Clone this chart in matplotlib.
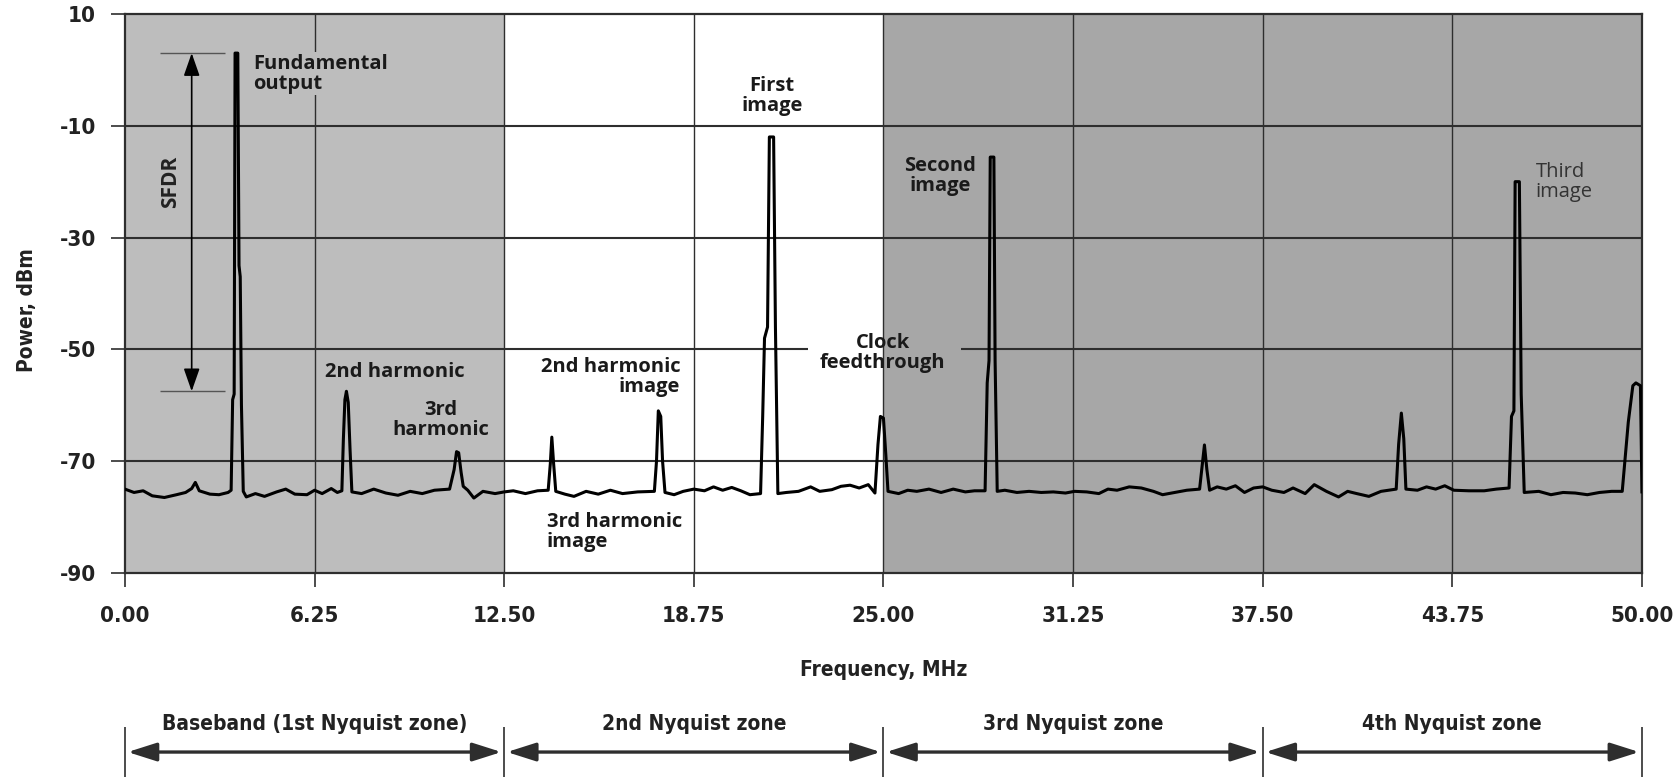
import matplotlib.pyplot as plt

# Spectrum analyser trace of a DAC output, frequency in MHz, power in dBm
trace_freq = [
    0.00, 0.30, 0.60, 0.90, 1.30, 1.70, 2.00, 2.20, 2.32, 2.45, 2.80, 3.10, 3.40, 3.50,
    3.55, 3.60, 3.63, 3.72, 3.76, 3.80, 3.84, 3.90,
    4.00, 4.30, 4.60, 5.00, 5.30, 5.60, 6.00, 6.25, 6.50, 6.80, 7.00, 7.15,
    7.20, 7.25, 7.30, 7.36, 7.42, 7.48,
    7.80, 8.20, 8.60, 9.00, 9.40, 9.80, 10.20, 10.70,
    10.85, 10.93, 11.00, 11.08, 11.15,
    11.30, 11.50, 11.80, 12.20, 12.50,
    12.80, 13.20, 13.60, 13.95,
    14.02, 14.07, 14.13, 14.20,
    14.50, 14.80, 15.20, 15.60, 16.00, 16.40, 16.90, 17.45,
    17.52, 17.58, 17.66, 17.72, 17.80,
    18.10, 18.40, 18.75, 19.10, 19.40, 19.70, 20.00, 20.30, 20.60, 20.95,
    21.02, 21.08, 21.18, 21.24, 21.38, 21.44, 21.52,
    21.80, 22.20, 22.60, 22.90, 23.30, 23.60, 23.90, 24.20, 24.50, 24.72,
    24.82, 24.90, 25.00, 25.08, 25.15,
    25.50, 25.80, 26.10, 26.50, 26.90, 27.30, 27.70, 28.00, 28.35,
    28.42, 28.48, 28.52, 28.64, 28.68, 28.75,
    29.00, 29.40, 29.80, 30.20, 30.60, 31.00, 31.30, 31.70, 32.10, 32.40,
    32.70, 33.10, 33.50, 33.90, 34.20, 34.60, 35.00, 35.42,
    35.50, 35.58, 35.66, 35.75,
    36.00, 36.30, 36.60, 36.90, 37.20, 37.50,
    37.80, 38.20, 38.50, 38.90, 39.20, 39.60, 40.00, 40.30, 40.60, 41.00, 41.40, 41.90,
    41.98, 42.07, 42.15, 42.22,
    42.60, 42.90, 43.20, 43.50, 43.80, 44.30, 44.80, 45.20, 45.62,
    45.70, 45.78, 45.82, 45.96, 46.02, 46.12,
    46.60, 47.00, 47.40, 47.80, 48.20, 48.60, 49.00, 49.35,
    49.55, 49.70, 49.80, 49.95, 50.00,
]
trace_dbm = [
    -75.0, -75.6, -75.3, -76.2, -76.5, -76.0, -75.6, -74.9, -73.8, -75.3, -75.9, -76.0, -75.6, -75.2,
    -59.0, -58.0, 3.0, 3.0, -35.0, -37.0, -60.0, -75.4,
    -76.4, -75.8, -76.3, -75.5, -75.0, -75.9, -76.0, -75.2, -75.8, -74.9, -75.6, -75.3,
    -66.0, -59.0, -57.5, -59.5, -68.0, -75.5,
    -75.8, -75.0, -75.7, -76.1, -75.4, -75.8, -75.2, -75.0,
    -71.5, -68.3, -68.5, -72.0, -74.5,
    -75.2, -76.6, -75.4, -75.8, -75.5,
    -75.3, -75.8, -75.3, -75.2,
    -70.5, -65.7, -70.5, -75.4,
    -75.9, -76.3, -75.4, -75.9, -75.2, -75.8, -75.5, -75.4,
    -70.0, -61.0, -62.0, -70.0, -75.6,
    -76.0, -75.4, -75.0, -75.3, -74.6, -75.2, -74.7, -75.3, -76.0, -75.8,
    -62.0, -48.0, -46.0, -12.0, -12.0, -46.0, -75.8,
    -75.6, -75.4, -74.6, -75.4, -75.1, -74.5, -74.3, -74.8, -74.2, -75.7,
    -67.0, -62.0, -62.3, -69.0, -75.4,
    -75.8, -75.2, -75.4, -75.0, -75.6, -75.0, -75.5, -75.3, -75.3,
    -56.0, -52.0, -15.6, -15.6, -52.0, -75.4,
    -75.2, -75.6, -75.4, -75.6, -75.5, -75.7, -75.4, -75.5, -75.8, -75.0,
    -75.2, -74.6, -74.8, -75.4, -76.0, -75.6, -75.2, -75.0,
    -71.0, -67.1, -71.5, -75.2,
    -74.6, -75.0, -74.4, -75.6, -74.8, -74.6,
    -75.2, -75.6, -74.8, -75.8, -74.2, -75.4, -76.4, -75.4, -75.8, -76.3, -75.4, -75.0,
    -67.0, -61.4, -66.0, -75.0,
    -75.2, -74.6, -75.0, -74.4, -75.2, -75.3, -75.3, -75.0, -74.8,
    -62.0, -61.0, -20.0, -20.0, -58.0, -75.6,
    -75.4, -76.0, -75.6, -75.7, -76.0, -75.6, -75.4, -75.4,
    -63.0, -56.5, -56.0, -56.5, -75.5,
]

zone_edges = [0.0, 12.5, 25.0, 37.5, 50.0]
zone_names = ['Baseband (1st Nyquist zone)', '2nd Nyquist zone',
              '3rd Nyquist zone', '4th Nyquist zone']
freq_ticks = [0.0, 6.25, 12.5, 18.75, 25.0, 31.25, 37.5, 43.75, 50.0]
power_ticks = [-90, -70, -50, -30, -10, 10]

# SFDR: fundamental peak down to the 2nd harmonic
sfdr_top = 3.0
sfdr_bottom = -57.5

# axis text is set in a condensed face, the peak notes in a plain one
TICK_FONT = dict(family='DejaVu Sans', stretch='condensed', weight='bold', size=16)
AXIS_FONT = dict(TICK_FONT, size=15)
TEXT_COLOR = '#222222'
LABEL = ['Open Sans', 'DejaVu Sans']
INK = '#2e2e2e'
LIGHT_ZONE = '#bdbdbd'
DARK_ZONE = '#a7a7a7'

fig = plt.figure(figsize=(16.77, 7.77), dpi=100)
ax = fig.add_axes([0.0745, 0.2626, 0.9046, 0.7194])
ax.set_xlim(0, 50)
ax.set_ylim(-90, 10)

# shaded Nyquist zones (2nd zone is left white)
ax.axvspan(zone_edges[0], zone_edges[1], color=LIGHT_ZONE, lw=0, zorder=0)
ax.axvspan(zone_edges[2], zone_edges[4], color=DARK_ZONE, lw=0, zorder=0)

for f in freq_ticks[1:-1]:
    ax.axvline(f, color=INK, lw=1.0, zorder=1)
for p in power_ticks[1:-1]:
    if p == -50:
        # broken where the clock feedthrough label sits
        ax.hlines([p, p], [0, 27.55], [22.5, 50], color=INK, lw=1.5, zorder=1)
    else:
        ax.axhline(p, color=INK, lw=1.5, zorder=1)

for s in ax.spines.values():
    s.set_color(INK)
    s.set_linewidth(1.6)

ax.set_xticks(freq_ticks, labels=[f'{v:.2f}' for v in freq_ticks])
ax.set_yticks(power_ticks, labels=[str(v) for v in power_ticks])
ax.tick_params(direction='out', length=10, width=1.2, color=INK)
ax.tick_params(axis='x', pad=14)
ax.tick_params(axis='y', pad=11)
for lab in ax.get_xticklabels() + ax.get_yticklabels():
    lab.set_fontproperties(TICK_FONT)
    lab.set_color(TEXT_COLOR)

ax.set_xlabel('Frequency, MHz', color=TEXT_COLOR, **AXIS_FONT)
ax.set_ylabel('Power, dBm', color=TEXT_COLOR, **AXIS_FONT)
ax.xaxis.set_label_coords(0.5, -0.155)
ax.yaxis.set_label_coords(-0.058, 0.47)

ax.plot(trace_freq, trace_dbm, color='black', lw=2.2, solid_joinstyle='round', zorder=3)

# SFDR marker
ax.hlines([sfdr_top, sfdr_bottom], 1.15, 3.3, color='#555555', lw=1.0, zorder=2)
ax.annotate('', xy=(2.2, sfdr_top), xytext=(2.2, sfdr_bottom),
            arrowprops=dict(arrowstyle='<|-|>,head_length=1.0,head_width=0.35',
                            mutation_scale=14, color='black', lw=1.2,
                            shrinkA=0, shrinkB=0), zorder=4)
ax.text(1.5, -20, 'SFDR', rotation=90, ha='center', va='center',
        family=LABEL, fontsize=15, fontweight='bold', color=TEXT_COLOR)

label_kw = dict(family=LABEL, fontsize=14.5, fontweight='bold', color='#1a1a1a',
                linespacing=1.0, zorder=5)
ax.text(4.22, 2.9, 'Fundamental\noutput', ha='left', va='top',
        bbox=dict(facecolor=LIGHT_ZONE, edgecolor='none', pad=1), **label_kw)
ax.text(8.9, -54, '2nd harmonic', ha='center', va='center', **label_kw)
ax.text(10.4, -62.6, '3rd\nharmonic', ha='center', va='center', **label_kw)
ax.text(18.3, -55, '2nd harmonic\nimage', ha='right', va='center', multialignment='right', **label_kw)
ax.text(13.9, -82.7, '3rd harmonic\nimage', ha='left', va='center', multialignment='left', **label_kw)
ax.text(21.33, -4.7, 'First\nimage', ha='center', va='center', **label_kw)
ax.text(26.87, -19, 'Second\nimage', ha='center', va='center', **label_kw)
ax.text(24.98, -50.7, 'Clock\nfeedthrough', ha='center', va='center', **label_kw)
third_kw = dict(label_kw, fontweight='normal', color='#333333')
ax.text(46.5, -20, 'Third\nimage', ha='left', va='center', **third_kw)

# Nyquist zone bar under the axis
zax = fig.add_axes([0.0745, 0.0, 0.9046, 0.0747])
zax.set_xlim(0, 50)
zax.set_ylim(0, 1)
zax.axis('off')
zax.vlines(zone_edges, 0, 0.86, color=INK, lw=1.2, clip_on=False)
for name, x0, x1 in zip(zone_names, zone_edges[:-1], zone_edges[1:]):
    zax.annotate('', xy=(x1, 0.43), xytext=(x0, 0.43),
                 arrowprops=dict(arrowstyle='<|-|>,head_length=1.1,head_width=0.35',
                                 mutation_scale=16, color=INK, lw=2.4,
                                 shrinkA=2, shrinkB=2))
    zax.text((x0 + x1) / 2, 0.92, name, ha='center', va='center',
             color=TEXT_COLOR, **AXIS_FONT)

fig.savefig('out.png', dpi=100)
